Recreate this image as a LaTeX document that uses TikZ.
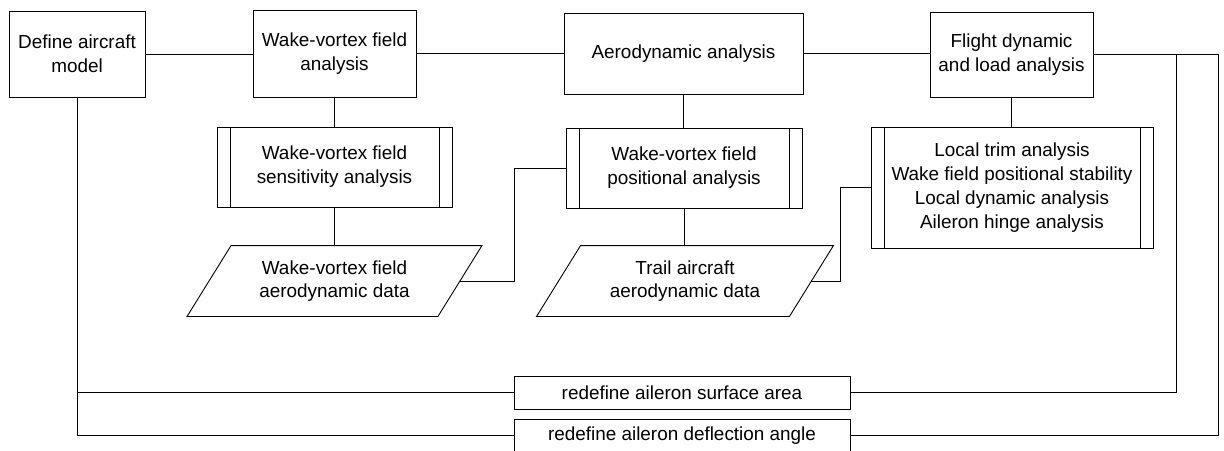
\documentclass[tikz,border=0pt]{standalone}
\usepackage{fontspec}
\setmainfont{Liberation Sans}
\usetikzlibrary{calc}
\tikzset{
  base/.style={inner sep=0pt, align=center, font=\fontsize{18.9}{24}\selectfont},
  proc/.style={base, draw},
  pproc/.style={base, draw, path picture={
     \draw ([xshift=13pt]path picture bounding box.north west) -- ([xshift=13pt]path picture bounding box.south west);
     \draw ([xshift=-13pt]path picture bounding box.north east) -- ([xshift=-13pt]path picture bounding box.south east);}},
  dataio/.style={base, font=\fontsize{18.9}{23}\selectfont},
  conn/.style={draw, line width=0.9pt},
}
\begin{document}
\begin{tikzpicture}[x=1pt, y=-1pt, line width=0.9pt]
\useasboundingbox (0,0) rectangle (1224,450);
% top row
\node[proc, minimum width=136pt, minimum height=86pt] (def) at (77,54) {Define aircraft\\model};
\node[proc, minimum width=163pt, minimum height=87pt] (wva) at (334.5,53.5) {Wake-vortex field\\analysis};
\node[proc, minimum width=239pt, minimum height=81pt] (aero) at (683.5,53.5) {Aerodynamic analysis};
\node[proc, minimum width=163pt, minimum height=85pt] (flight) at (1011.5,54.5) {Flight dynamic\\and load analysis};
% second row
\node[pproc, minimum width=235pt, minimum height=80pt] (sens) at (334.5,167) {Wake-vortex field\\sensitivity analysis};
\node[pproc, minimum width=236pt, minimum height=80pt] (pos) at (684,168) {Wake-vortex field\\positional analysis};
\node[pproc, minimum width=282pt, minimum height=121pt] (trim) at (1012,187.5) {Local trim analysis\\Wake field positional stability\\Local dynamic analysis\\Aileron hinge analysis};
% data
\node[dataio, minimum width=250pt, minimum height=70pt] (d1) at (334.5,281) {Wake-vortex field\\aerodynamic data};
\node[dataio, minimum width=252pt, minimum height=70pt] (d2) at (685,281) {Trail aircraft\\aerodynamic data};
\draw ($(d1.north west)+(22,0)$) -- ($(d1.north east)+(22,0)$) -- ($(d1.south east)+(-22,0)$) -- ($(d1.south west)+(-22,0)$) -- cycle;
\draw ($(d2.north west)+(22,0)$) -- ($(d2.north east)+(22,0)$) -- ($(d2.south east)+(-22,0)$) -- ($(d2.south west)+(-22,0)$) -- cycle;
% bottom
\node[proc, minimum width=336pt, minimum height=33pt] (ra) at (682,392.5) {redefine aileron surface area};
\node[proc, minimum width=336pt, minimum height=33pt] (rb) at (682,435.5) {redefine aileron deflection angle};
% coordinates
\coordinate (k1) at (514,0);
\coordinate (k2) at (840,0);
\coordinate (k3) at (1176,0);
\coordinate (k4) at (1218,0);
% connectors
\draw[conn] (def.east) -- (def.east -| wva.west);
\draw[conn] (wva.east) -- (aero.west);
\draw[conn] (aero.east) -- (aero.east -| flight.west);
\draw[conn] (wva.south) -- (sens.north);
\draw[conn] (aero.south) -- (aero.south |- pos.north);
\draw[conn] (flight.south) -- (flight.south |- trim.north);
\draw[conn] (sens.south) -- (sens.south |- d1.north);
\draw[conn] (pos.south) -- (pos.south |- d2.north);
\draw[conn] (d1.east) -- (k1 |- d1.east) -- (k1 |- pos.west) -- (pos.west);
\draw[conn] (d2.east) -- (k2 |- d2.east) -- (k2 |- trim.west) -- (trim.west);
\draw[conn] (flight.east) -- (k4 |- flight.east) -- (k4 |- rb.east) -- (rb.east);
\draw[conn] (k3 |- flight.east) -- (k3 |- ra.east) -- (ra.east);
\draw[conn] (def.south) -- (def.south |- rb.west) -- (rb.west);
\draw[conn] (def.south |- ra.west) -- (ra.west);
\end{tikzpicture}
\end{document}
